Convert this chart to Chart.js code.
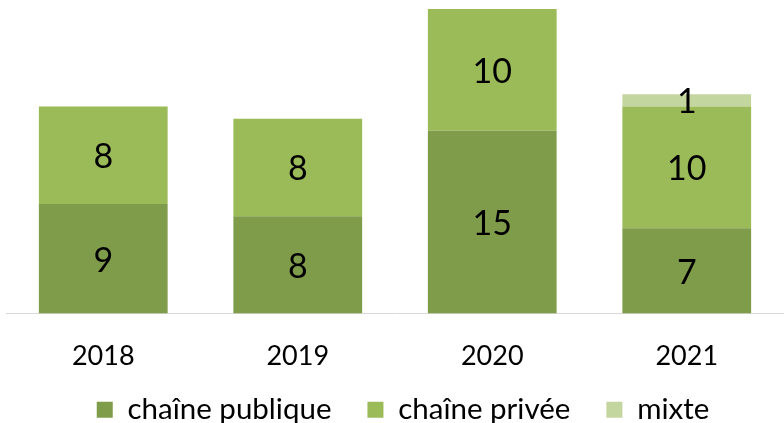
<!DOCTYPE html>
<html>
<head>
<meta charset="utf-8">
<script src="https://cdn.jsdelivr.net/npm/chart.js@4"></script>
<style>
  html, body { margin: 0; padding: 0; background: #fff; }
  #wrap { width: 784px; height: 423px; }
</style>
</head>
<body>
<div id="wrap"><canvas id="chart"></canvas></div>
<script>
const years = ["2018", "2019", "2020", "2021"];
const publique = [9, 8, 15, 7];
const privee = [8, 8, 10, 10];
const mixte = [null, null, null, 1];

const font = "Lato, 'Open Sans', sans-serif";

// writes the value in the middle of each bar segment
const segmentLabels = {
  id: "segmentLabels",
  afterDatasetsDraw(chart) {
    const c = chart.ctx;
    c.save();
    c.font = "34px " + font;
    c.fillStyle = "#000";
    c.textAlign = "center";
    c.textBaseline = "middle";
    chart.data.datasets.forEach((ds, i) => {
      chart.getDatasetMeta(i).data.forEach((bar, j) => {
        const v = ds.data[j];
        if (v == null) return;
        c.fillText(String(v), bar.x, (bar.y + bar.base) / 2 + 2);
      });
    });
    c.restore();
  },
};

// wide gaps between legend items but a short legend box
const legendFit = {
  id: "legendFit",
  beforeInit(chart) {
    const fit = chart.legend.fit;
    chart.legend.fit = function () {
      fit.call(this);
      this.height = 33;
    };
  },
  afterLayout(chart) {
    chart.legend.top -= 31;
    chart.legend.left += 16;
  },
};

const ctx = document.getElementById("chart");
new Chart(ctx, {
  type: "bar",
  data: {
    labels: years,
    datasets: [
      { label: "chaîne publique", data: publique, backgroundColor: "#7F9C4A" },
      { label: "chaîne privée", data: privee, backgroundColor: "#9BBB59" },
      { label: "mixte", data: mixte, backgroundColor: "#C4D6A0" },
    ],
  },
  options: {
    responsive: true,
    maintainAspectRatio: false,
    animation: false,
    layout: { padding: { top: 9, left: 6, right: 0, bottom: 0 } },
    datasets: {
      bar: { categoryPercentage: 1, barPercentage: 0.662 },
    },
    scales: {
      x: {
        stacked: true,
        grid: { display: false },
        border: { color: "#D9D9D9", width: 1 },
        ticks: { color: "#000", font: { family: font, size: 27 }, padding: 18 },
      },
      y: {
        stacked: true,
        display: false,
        min: 0,
        max: 25,
      },
    },
    plugins: {
      legend: {
        position: "bottom",
        labels: {
          color: "#000",
          font: { family: font, size: 29.5 },
          boxWidth: 16,
          boxHeight: 16,
          padding: 36,
        },
      },
      tooltip: { enabled: false },
    },
  },
  plugins: [segmentLabels, legendFit],
});
</script>
</body>
</html>
